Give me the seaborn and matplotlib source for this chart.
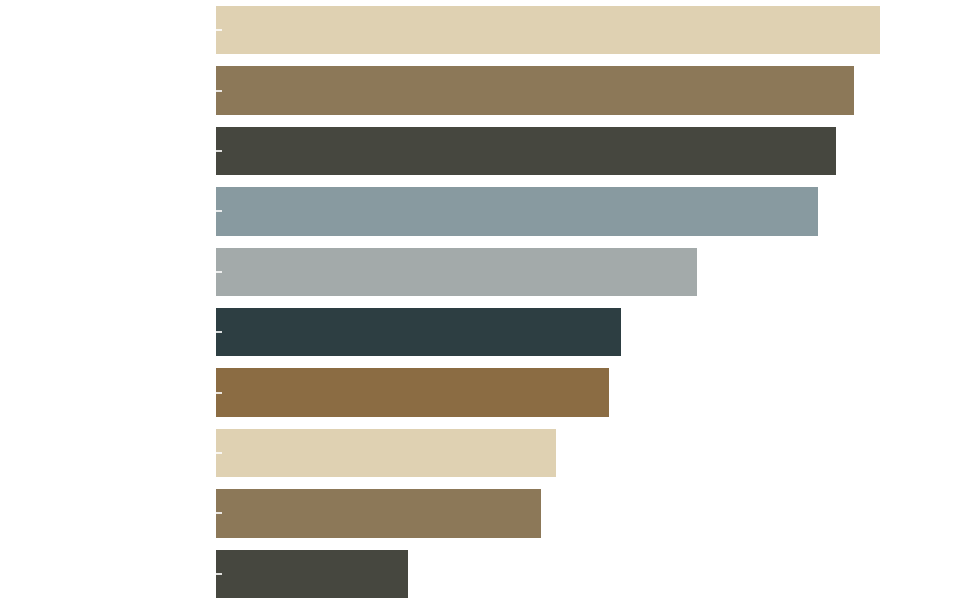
import matplotlib
matplotlib.use('Agg')
import matplotlib.pyplot as plt
import seaborn as sns
import pandas as pd

# values (bar lengths)
categories = ['A', 'B', 'C', 'D', 'E', 'F', 'G', 'H', 'I', 'J']
values = [66.4, 63.8, 62.0, 60.2, 48.1, 40.5, 39.3, 34.0, 32.5, 19.2]
colors = ['#DFD1B2', '#8C7858', '#46473F', '#889AA0', '#A3AAAA',
          '#2D3E42', '#8B6C43', '#DFD1B2', '#8C7858', '#46473F']

df = pd.DataFrame({'category': categories, 'value': values})

sns.set_style('white')
fig = plt.figure(figsize=(9.73, 6.04), dpi=100)
ax = fig.add_axes([216 / 973, 0, 700 / 973, 1])

sns.barplot(data=df, x='value', y='category', hue='category', palette=colors,
            saturation=1, legend=False, linewidth=0, ax=ax)

ax.set_xlim(0, 70)
ax.set_xlabel('')
ax.set_ylabel('')
ax.set_xticks([])
# ticks and labels are white, so only the little marks on the bars show
ax.tick_params(axis='y', left=True, direction='in', length=4.5, width=1.2,
               color='white', labelcolor='white')
for s in ax.spines.values():
    s.set_visible(False)
ax.set_axisbelow(False)

fig.savefig('out.png', dpi=100, facecolor='white')
